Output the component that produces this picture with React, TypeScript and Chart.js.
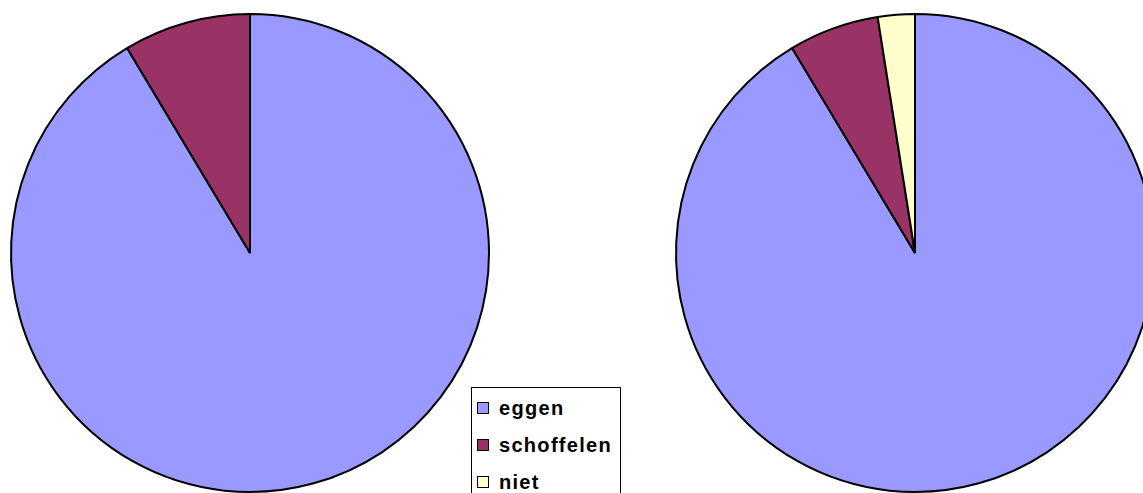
import React, { useEffect, useRef } from "react";
import { Chart, registerables } from "chart.js";

Chart.register(...registerables);

const categories = ["eggen", "schoffelen", "niet"];
const leftValues = [91.4, 8.6, 0];
const rightValues = [91.4, 6.1, 2.5];
const colors = ["#9999FF", "#993366", "#FFFFCC"];

function Pie({ values, left, top }: { values: number[]; left: number; top: number }) {
  const ref = useRef<HTMLCanvasElement | null>(null);
  useEffect(() => {
    if (!ref.current) return;
    const chart = new Chart(ref.current, {
      type: "pie",
      data: {
        labels: categories,
        datasets: [
          {
            data: values,
            backgroundColor: colors,
            borderColor: "#000000",
            borderWidth: 2,
            radius: 239,
          } as any,
        ],
      },
      options: {
        animation: false,
        responsive: false,
        events: [],
        layout: { padding: 0 },
        plugins: { legend: { display: false }, tooltip: { enabled: false } },
      },
    });
    return () => chart.destroy();
  }, []);
  return (
    <canvas
      ref={ref}
      width={500}
      height={500}
      style={{ position: "absolute", left, top, width: 500, height: 500 }}
    />
  );
}

export default function App() {
  return (
    <div
      style={{
        position: "absolute",
        left: 0,
        top: 0,
        width: 1143,
        height: 493,
        overflow: "hidden",
        background: "#fff",
      }}
    >
      <Pie values={leftValues} left={0} top={3} />
      <Pie values={rightValues} left={665} top={3} />
      <div
        style={{
          position: "absolute",
          left: 471,
          top: 387,
          width: 148,
          height: 120,
          border: "1px solid #000",
          background: "#fff",
          fontFamily: "'Liberation Sans', Arial, sans-serif",
          fontWeight: "bold",
          fontSize: 20,
          letterSpacing: 1.3,
        }}
      >
        {categories.map((c, i) => (
          <div
            key={c}
            style={{
              position: "absolute",
              left: 5,
              top: 12 + i * 37,
              display: "flex",
              alignItems: "center",
              height: 16,
              whiteSpace: "nowrap",
            }}
          >
            <span
              style={{
                display: "inline-block",
                width: 10,
                height: 10,
                border: "1.5px solid #000",
                background: colors[i],
                marginRight: 10,
              }}
            />
            <span>{c}</span>
          </div>
        ))}
      </div>
    </div>
  );
}
